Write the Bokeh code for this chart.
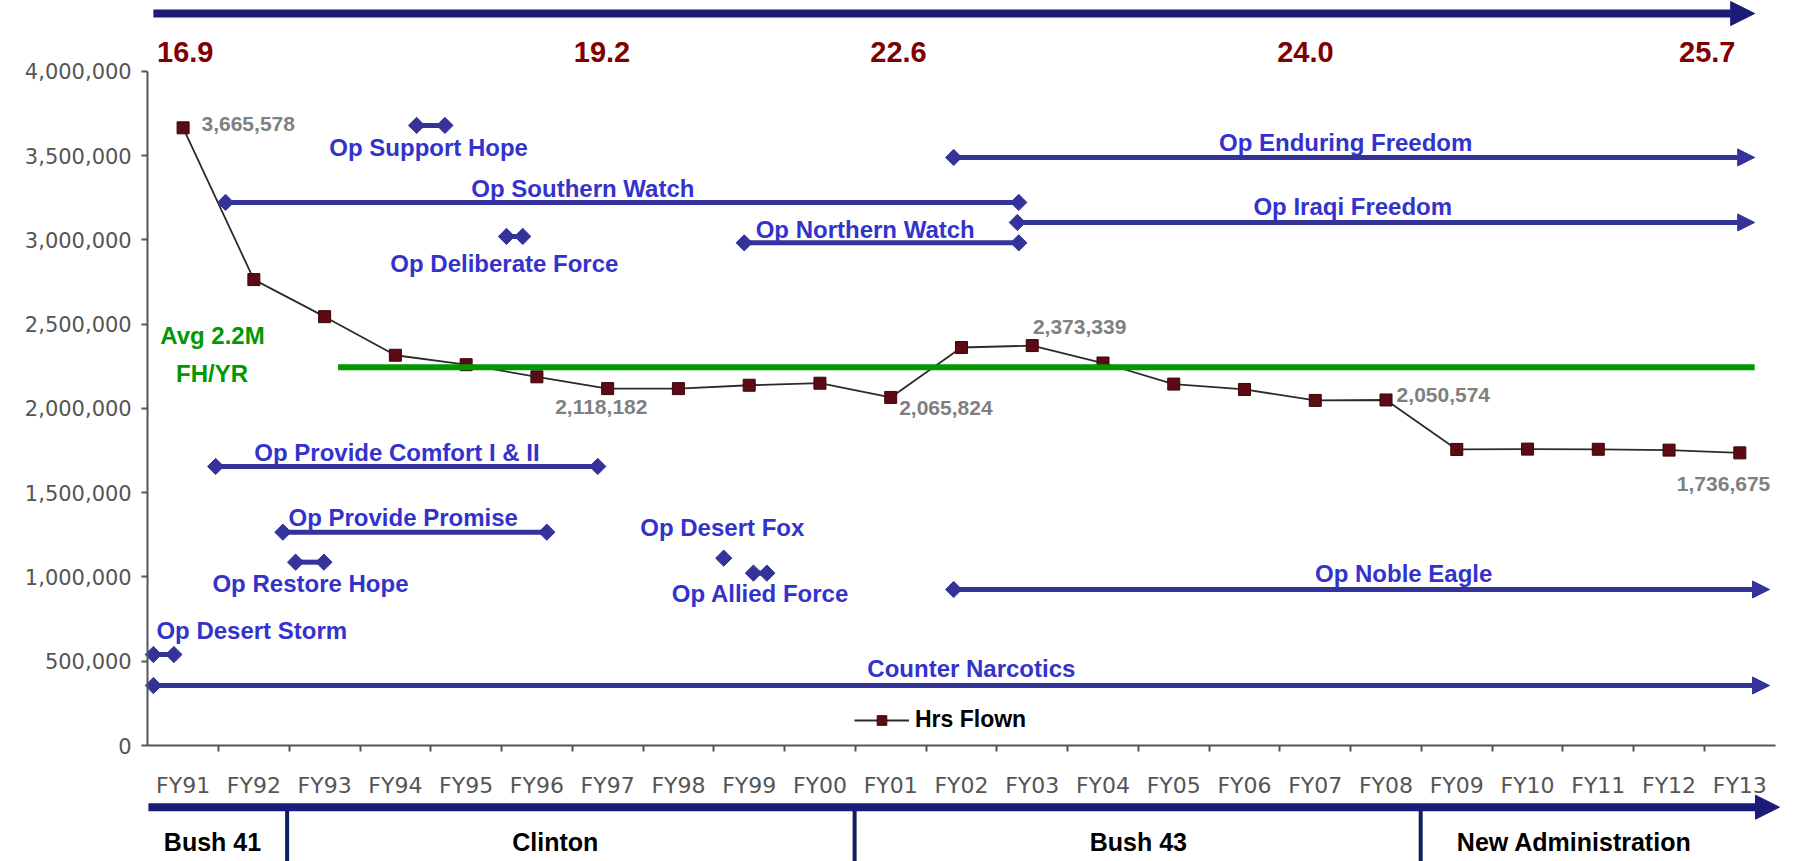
from bokeh.plotting import figure
from bokeh.models import (ColumnDataSource, FixedTicker, NumeralTickFormatter, Range1d,
                          Arrow, NormalHead, Legend, LegendItem)
from bokeh.core.properties import value
from bokeh.embed import file_html
from bokeh.resources import INLINE

# ---------------- data ----------------
fiscal_years = ["FY91", "FY92", "FY93", "FY94", "FY95", "FY96", "FY97", "FY98", "FY99", "FY00",
                "FY01", "FY02", "FY03", "FY04", "FY05", "FY06", "FY07", "FY08", "FY09", "FY10",
                "FY11", "FY12", "FY13"]
hours_flown = [3665578, 2765000, 2545000, 2316000, 2260000, 2188000, 2118182, 2118000, 2138000,
               2150000, 2065824, 2362000, 2373339, 2270000, 2145000, 2113000, 2048000, 2050574,
               1757000, 1759000, 1758000, 1753000, 1736675]
labeled_years = ["FY91", "FY97", "FY01", "FY03", "FY08", "FY13"]

avg_hours = 2245000
avg_text = ["Avg 2.2M", "FH/YR"]

top_values = ["16.9", "19.2", "22.6", "24.0", "25.7"]
administrations = ["Bush 41", "Clinton", "Bush 43", "New Administration"]
admin_breaks = [1.47, 9.49, 17.49]

op_names = ["Op Desert Storm", "Counter Narcotics", "Op Provide Comfort  I & II", "Op Southern Watch",
            "Op Provide Promise", "Op Restore Hope", "Op Support Hope", "Op Deliberate Force",
            "Op Northern Watch", "Op Desert Fox", "Op Allied Force", "Op Enduring Freedom",
            "Op Iraqi Freedom", "Op Noble Eagle"]
op_start = [-0.42, -0.42, 0.46, 0.60, 1.41, 1.59, 3.30, 4.57, 7.93, 7.64, 8.06, 10.89, 11.79, 10.89]
op_end = [-0.13, 22.42, 5.86, 11.81, 5.14, 1.99, 3.70, 4.80, 11.81, 7.64, 8.25, 22.21, 22.21, 22.42]
op_level = [540000, 356000, 1656000, 3223000, 1266000, 1088000, 3680000, 3021000, 2983000,
            1112000, 1023000, 3490000, 3104000, 926000]
op_ongoing = [False, True, False, False, False, False, False, False, False, False, False,
              True, True, True]

# ---------------- layout (positions only) ----------------
op_label_x = [0.97, 11.14, 3.07, 5.65, 3.11, 1.80, 3.47, 4.54, 9.64, 7.62, 8.16, 16.43, 16.53, 17.25]
op_label_y = [682000, 455000, 1741000, 3306000, 1355000, 960000, 3549000, 2861000, 3062000,
              1296000, 900000, 3579000, 3199000, 1019000]
val_label_x = [0.26, 5.91, 10.78, 12.67, 17.81, 21.77]
val_label_y = [3686000, 2006000, 2002000, 2483000, 2081000, 1549000]
top_x = [0.03, 5.92, 10.11, 15.86, 21.54]
admin_x = [0.415, 5.26, 13.5, 19.66]

FONT = value("Liberation Sans")
OP_LINE = "#333399"
OP_TEXT = "#3333CC"
NAVY = "#1a1c78"

p = figure(width=1793, height=861, x_range=Range1d(-2.5806, 22.7587),
           y_range=Range1d(-688425, 4421352), output_backend="svg",
           toolbar_location=None, min_border=0)
p.xgrid.visible = False
p.ygrid.visible = False
p.outline_line_color = None

# axes
xa = p.xaxis[0]
xa.fixed_location = 0
xa.bounds = (-0.5, 22.5)
xa.ticker = FixedTicker(ticks=list(range(len(fiscal_years))),
                        minor_ticks=[i + 0.5 for i in range(len(fiscal_years) - 1)])
xa.major_label_overrides = {i: fy for i, fy in enumerate(fiscal_years)}
xa.major_tick_out = 0
xa.major_tick_in = 0
xa.minor_tick_out = 6
xa.minor_tick_in = 0
xa.minor_tick_line_color = "#555555"
xa.minor_tick_line_width = 2
xa.axis_line_color = "#555555"
xa.axis_line_width = 2
xa.major_label_text_font = "DejaVu Sans"
xa.major_label_text_font_size = "22px"
xa.major_label_text_color = "#555555"
xa.major_label_standoff = 21

ya = p.yaxis[0]
ya.fixed_location = -0.5
ya.bounds = (0, 4000000)
ya.ticker = FixedTicker(ticks=[0, 500000, 1000000, 1500000, 2000000, 2500000, 3000000,
                               3500000, 4000000])
ya.formatter = NumeralTickFormatter(format="0,0")
ya.major_tick_out = 6
ya.major_tick_in = 0
ya.major_tick_line_color = "#555555"
ya.major_tick_line_width = 2
ya.minor_tick_line_color = None
ya.axis_line_color = "#555555"
ya.axis_line_width = 2
ya.major_label_text_font = "DejaVu Sans"
ya.major_label_text_font_size = "21px"
ya.major_label_text_color = "#555555"
ya.major_label_standoff = 10

# main series
xs = list(range(len(fiscal_years)))
src = ColumnDataSource(dict(x=xs, y=hours_flown))
line_r = p.line("x", "y", source=src, line_color="#2b2b2b", line_width=1.8)
mark_r = p.scatter("x", "y", source=src, marker="square", size=12,
                   fill_color="#5c0a14", line_color="#3a0508")

# average line
p.line([2.19, 22.21], [avg_hours, avg_hours], line_color="#009900", line_width=6)
p.text(x=[0.415, 0.41], y=[2433000, 2210000], text=avg_text, text_font=FONT,
       text_font_style="bold", text_font_size="24px", text_color="#009900",
       text_align="center", text_baseline="middle")

# operations
seg_idx = [i for i in range(len(op_names)) if not op_ongoing[i]]
p.segment(x0=[op_start[i] for i in seg_idx], y0=[op_level[i] for i in seg_idx],
          x1=[op_end[i] for i in seg_idx], y1=[op_level[i] for i in seg_idx],
          line_color=OP_LINE, line_width=5)
arr_idx = [i for i in range(len(op_names)) if op_ongoing[i]]
arr_src = ColumnDataSource(dict(x0=[op_start[i] for i in arr_idx], x1=[op_end[i] for i in arr_idx],
                                y=[op_level[i] for i in arr_idx]))
p.add_layout(Arrow(source=arr_src, x_start="x0", y_start="y", x_end="x1", y_end="y",
                   line_color=OP_LINE, line_width=5,
                   end=NormalHead(size=17, fill_color=OP_LINE, line_color=OP_LINE)))
dx = list(op_start) + [op_end[i] for i in seg_idx if op_end[i] != op_start[i]]
dy = list(op_level) + [op_level[i] for i in seg_idx if op_end[i] != op_start[i]]
p.scatter(dx, dy, marker="square", angle=0.785398, size=11.5,
          fill_color=OP_LINE, line_color=OP_LINE)
p.text(x=op_label_x, y=op_label_y, text=op_names, text_font=FONT, text_font_style="bold",
       text_font_size="24px", text_color=OP_TEXT, text_align="center", text_baseline="middle")

# value labels
lab_vals = [hours_flown[fiscal_years.index(fy)] for fy in labeled_years]
lab_txt = [f"{v:,}" for v in lab_vals]
p.text(x=val_label_x[:1], y=val_label_y[:1], text=lab_txt[:1], text_font=FONT,
       text_font_style="bold", text_font_size="21px", text_color="#808080",
       text_align="left", text_baseline="middle")
p.text(x=val_label_x[1:], y=val_label_y[1:], text=lab_txt[1:], text_font=FONT,
       text_font_style="bold", text_font_size="21px", text_color="#808080",
       text_align="center", text_baseline="middle")

# top arrow + values
p.add_layout(Arrow(x_start=-0.42, y_start=4344000, x_end=22.21, y_end=4344000,
                   line_color=NAVY, line_width=8,
                   end=NormalHead(size=24, fill_color=NAVY, line_color=NAVY)))
p.text(x=top_x, y=[4118000] * len(top_x), text=top_values, text_font=FONT,
       text_font_style="bold", text_font_size="29px", text_color="#800000",
       text_align="center", text_baseline="middle")

# bottom administration bar
p.add_layout(Arrow(x_start=-0.49, y_start=-366000, x_end=22.56, y_end=-366000,
                   line_color=NAVY, line_width=8,
                   end=NormalHead(size=24, fill_color=NAVY, line_color=NAVY)))
p.segment(x0=admin_breaks, y0=[-366000] * 3, x1=admin_breaks, y1=[-700000] * 3,
          line_color="#0d1f5c", line_width=4)
p.text(x=admin_x, y=[-574000] * 4, text=administrations, text_font=FONT,
       text_font_style="bold", text_font_size="25px", text_color="#000000",
       text_align="center", text_baseline="middle")

# legend
legend = Legend(items=[LegendItem(label="Hrs Flown", renderers=[line_r, mark_r])],
                location=(854, 128), orientation="horizontal",
                background_fill_alpha=0, border_line_alpha=0,
                label_text_font="Liberation Sans", label_text_font_style="bold",
                label_text_font_size="23px", label_text_color="#000000",
                glyph_width=55, glyph_height=24, padding=0, margin=0,
                label_standoff=6, spacing=0)
p.add_layout(legend)

open("out.html", "w").write(file_html(p, INLINE))
